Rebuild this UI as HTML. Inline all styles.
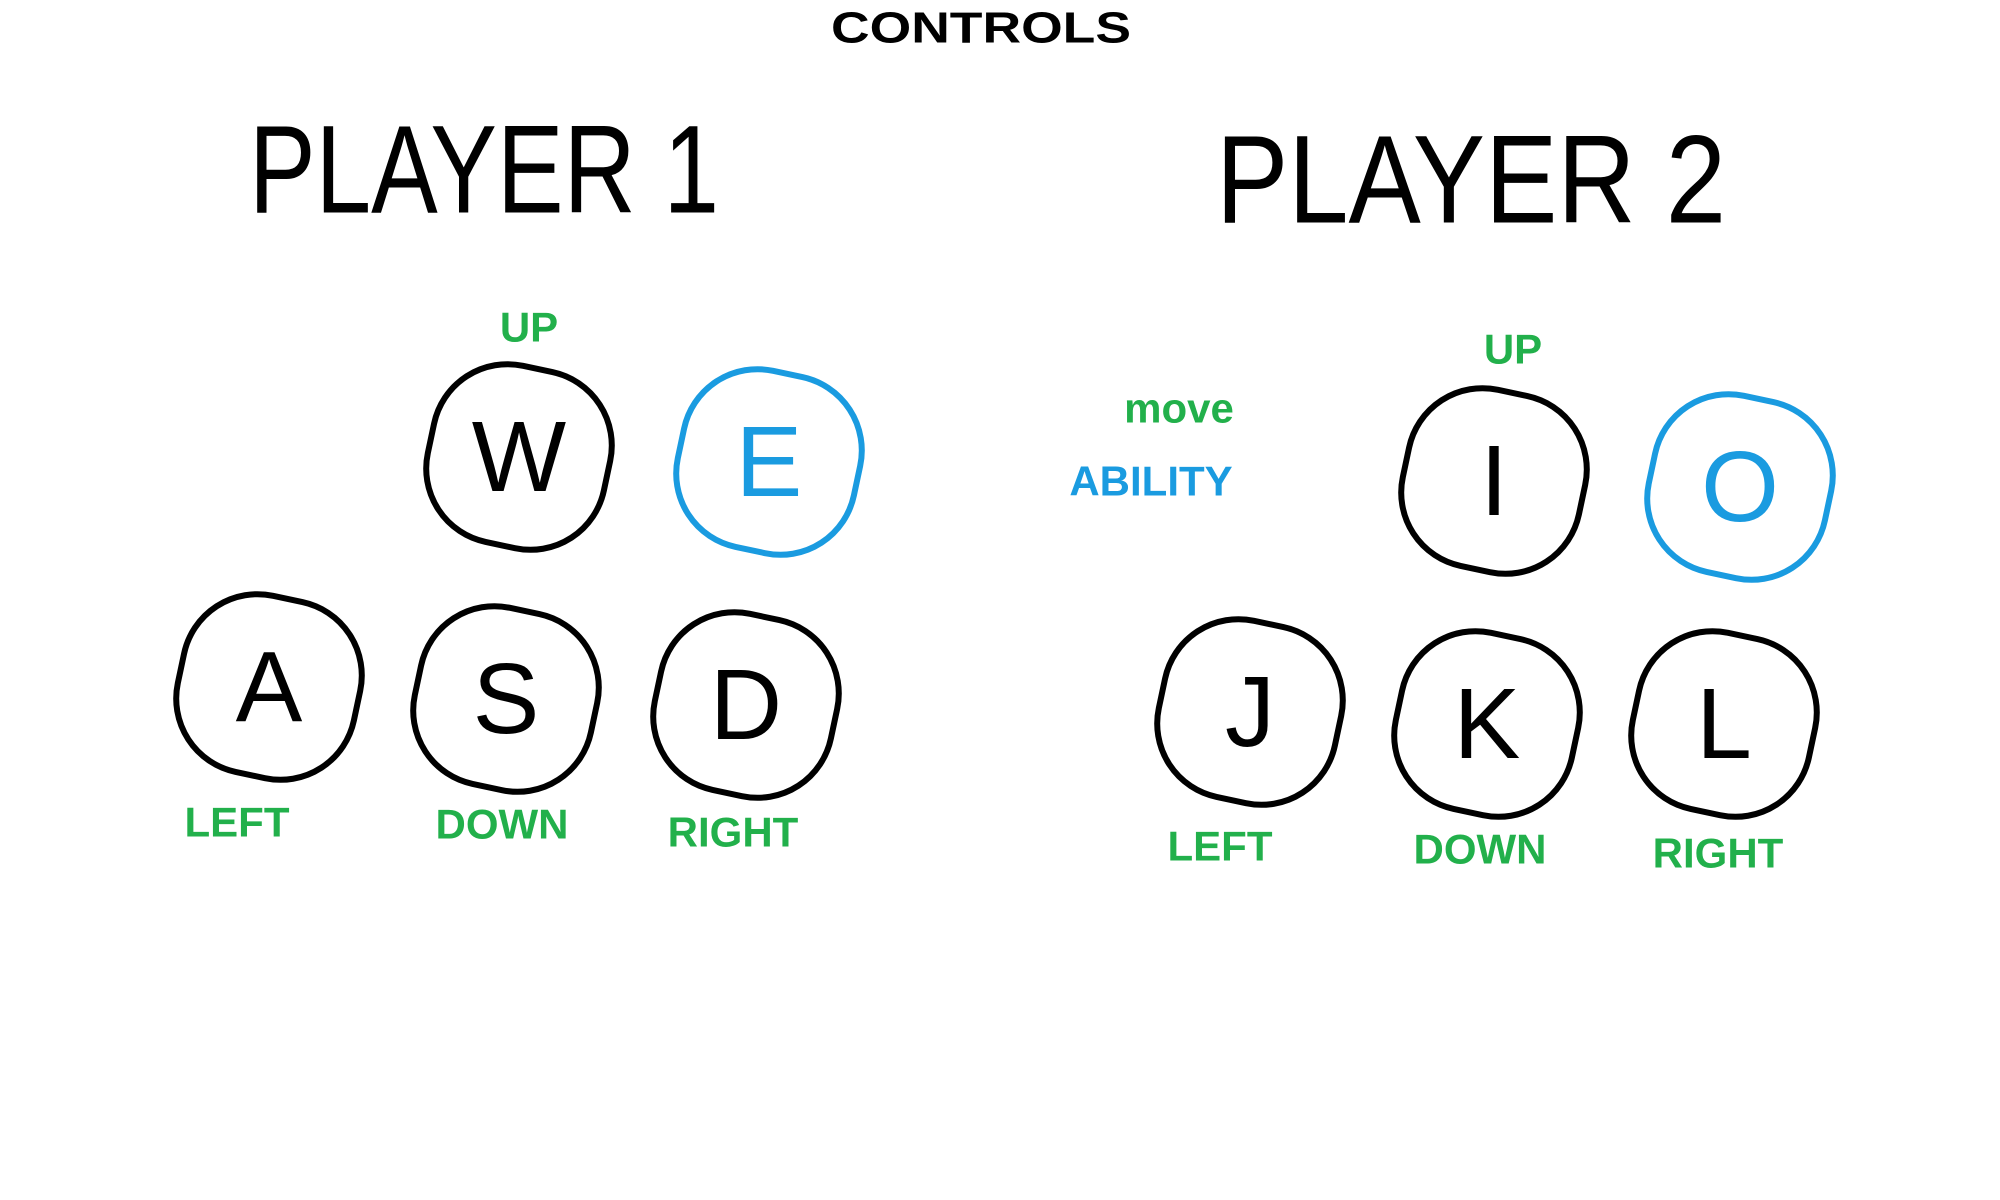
<!DOCTYPE html>
<html><head><meta charset="utf-8"><style>
html,body{margin:0;padding:0;background:#fff;width:2000px;height:1200px;overflow:hidden}
svg{display:block}
text{font-family:"Liberation Sans",sans-serif;text-anchor:middle;dominant-baseline:central}
.k{fill:none;stroke:#000;stroke-width:6}
.kb{fill:none;stroke:#1a9be0;stroke-width:6}
.lt{font-size:100px;fill:#000}
.ltb{font-size:100px;fill:#1a9be0}
.g{fill:#22b04b;font-weight:bold;font-size:42px}
</style></head><body>
<svg width="2000" height="1200" viewBox="0 0 2000 1200">
<text x="981" y="28" font-size="44" font-weight="bold" textLength="300" lengthAdjust="spacingAndGlyphs">CONTROLS</text>
<text x="484" y="170" font-size="125" textLength="470" lengthAdjust="spacingAndGlyphs">PLAYER 1</text>
<text x="1471" y="180" font-size="125" textLength="510" lengthAdjust="spacingAndGlyphs">PLAYER 2</text>

<g><rect x="429" y="367" width="180" height="180" rx="75" class="k" transform="rotate(12 519 457)"/><text x="519" y="457" class="lt">W</text></g>
<g><rect x="679" y="372" width="180" height="180" rx="75" class="kb" transform="rotate(12 769 462)"/><text x="769" y="462" class="ltb">E</text></g>
<g><rect x="179" y="597" width="180" height="180" rx="75" class="k" transform="rotate(12 269 687)"/><text x="269" y="687" class="lt">A</text></g>
<g><rect x="416" y="609" width="180" height="180" rx="75" class="k" transform="rotate(12 506 699)"/><text x="506" y="699" class="lt">S</text></g>
<g><rect x="656" y="615" width="180" height="180" rx="75" class="k" transform="rotate(12 746 705)"/><text x="746" y="705" class="lt">D</text></g>

<g><rect x="1404" y="391" width="180" height="180" rx="75" class="k" transform="rotate(12 1494 481)"/><text x="1494" y="481" class="lt">I</text></g>
<g><rect x="1650" y="397" width="180" height="180" rx="75" class="kb" transform="rotate(12 1740 487)"/><text x="1740" y="487" class="ltb">O</text></g>
<g><rect x="1160" y="622" width="180" height="180" rx="75" class="k" transform="rotate(12 1250 712)"/><text x="1250" y="712" class="lt">J</text></g>
<g><rect x="1397" y="634" width="180" height="180" rx="75" class="k" transform="rotate(12 1487 724)"/><text x="1487" y="724" class="lt">K</text></g>
<g><rect x="1634" y="634" width="180" height="180" rx="75" class="k" transform="rotate(12 1724 724)"/><text x="1724" y="724" class="lt">L</text></g>

<text x="529" y="327" class="g">UP</text>
<text x="237" y="822" class="g">LEFT</text>
<text x="502" y="824" class="g">DOWN</text>
<text x="733" y="832" class="g">RIGHT</text>
<text x="1179" y="408" class="g" font-size="50">move</text>
<text x="1151" y="481" class="g" style="fill:#1a9be0">ABILITY</text>
<text x="1513" y="349" class="g">UP</text>
<text x="1220" y="846" class="g">LEFT</text>
<text x="1480" y="849" class="g">DOWN</text>
<text x="1718" y="853" class="g">RIGHT</text>
</svg>
</body></html>
